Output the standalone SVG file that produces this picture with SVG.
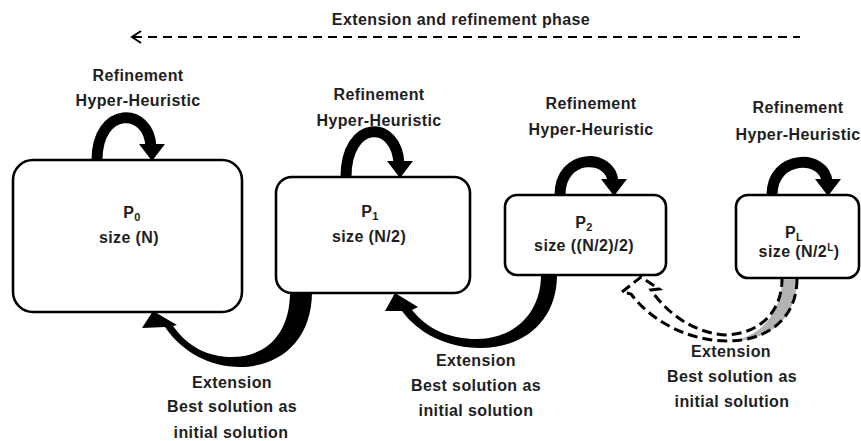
<svg xmlns="http://www.w3.org/2000/svg" width="861" height="441" viewBox="0 0 861 441">
<style>
.t{font-family:"Liberation Sans",Arial,sans-serif;font-weight:bold;font-size:16px;letter-spacing:0.4px;text-anchor:middle;fill:#1e1e1e}
.box{fill:#fff;stroke:#000;stroke-width:2.6}
.loop{fill:none;stroke:#000;stroke-width:11}
.head{fill:#000}
.dash3{fill:none;stroke:#000;stroke-width:3;stroke-dasharray:10 5}
</style>
<rect width="861" height="441" fill="#fff"/>

<g id="phase">
<line x1="133" y1="37" x2="800" y2="37" stroke="#000" stroke-width="2" stroke-dasharray="9 6"/>
<polyline points="141,31 132,37 141,43" fill="none" stroke="#000" stroke-width="2"/>
<text class="t" x="461" y="25">Extension and refinement phase</text>
</g>

<g id="P0">
<rect class="box" x="13" y="160" width="229" height="152" rx="20"/>
<text class="t" x="132" y="218">P<tspan font-size="11" dy="3">0</tspan></text>
<text class="t" x="129" y="243">size (N)</text>
</g>

<g id="P1">
<rect class="box" x="276" y="177" width="194" height="116" rx="16"/>
<text class="t" x="370" y="217">P<tspan font-size="11" dy="3">1</tspan></text>
<text class="t" x="369" y="242">size (N/2)</text>
</g>

<g id="P2">
<rect class="box" x="505" y="195" width="161" height="80" rx="12"/>
<text class="t" x="584" y="228">P<tspan font-size="11" dy="3">2</tspan></text>
<text class="t" x="584" y="251">size ((N/2)/2)</text>
</g>

<g id="PL">
<rect class="box" x="736" y="195" width="123" height="83" rx="12"/>
<text class="t" x="794" y="238">P<tspan font-size="11" dy="3">L</tspan></text>
<text class="t" x="799" y="257">size (N/2<tspan font-size="10" dy="-6">L</tspan><tspan dy="6">)</tspan></text>
</g>

<g id="connectors">
<!-- self loops -->
<path class="loop" d="M97,160 C97,106 149,106 151,147"/>
<polygon class="head" points="139,144 165,144 152,161"/>
<path class="loop" d="M346,177 C346,119 397,119 399,164"/>
<polygon class="head" points="387,161 413,161 400,178"/>
<path class="loop" d="M560,195 C560,153 611,153 613,182"/>
<polygon class="head" points="601,179 627,179 614,196"/>
<path class="loop" d="M772,195 C772,154 825,154 827,182"/>
<polygon class="head" points="815,179 841,179 828,196"/>

<!-- extension P1 -> P0 -->
<path class="head" d="M312,292 C312,340 280,367 240,367 C210,367 182,352 165,327 L142,328 L153,311 L177,325 L173,326 C188,347 208,357 232,357 C265,357 290,335 290,292 Z"/>
<!-- extension P2 -> P1 -->
<path class="head" d="M557,275 C557,320 525,348 480,348 C447,348 418,333 402,311 L385,311 L395,293 L418,307 L412,310 C428,330 450,339 477,339 C512,339 541,315 541,275 Z"/>
<!-- extension PL -> P2 (dashed) -->
<path d="M797,279 C797,318 770,340 733,341 C762,335 782,312 782,279 Z" fill="#b3b3b3"/>
<path class="dash3" d="M797,279 C797,318 768,341 727,341 C690,341 652,322 631,294 L622,292 L641,277 L659,289 L651,290 C669,316 697,334 727,335 C760,333 782,312 782,279"/>
</g>

<g id="labels">
<text class="t" x="138" y="81">Refinement</text>
<text class="t" x="138" y="106">Hyper-Heuristic</text>
<text class="t" x="379" y="100">Refinement</text>
<text class="t" x="379" y="126">Hyper-Heuristic</text>
<text class="t" x="591" y="109">Refinement</text>
<text class="t" x="591" y="135">Hyper-Heuristic</text>
<text class="t" x="798" y="113">Refinement</text>
<text class="t" x="798" y="140">Hyper-Heuristic</text>

<text class="t" x="232" y="388">Extension</text>
<text class="t" x="232" y="412">Best solution as</text>
<text class="t" x="231" y="438">initial solution</text>

<text class="t" x="476" y="366">Extension</text>
<text class="t" x="476" y="391">Best solution as</text>
<text class="t" x="476" y="416">initial solution</text>

<text class="t" x="731" y="357">Extension</text>
<text class="t" x="732" y="382">Best solution as</text>
<text class="t" x="732" y="407">initial solution</text>
</g>
</svg>
